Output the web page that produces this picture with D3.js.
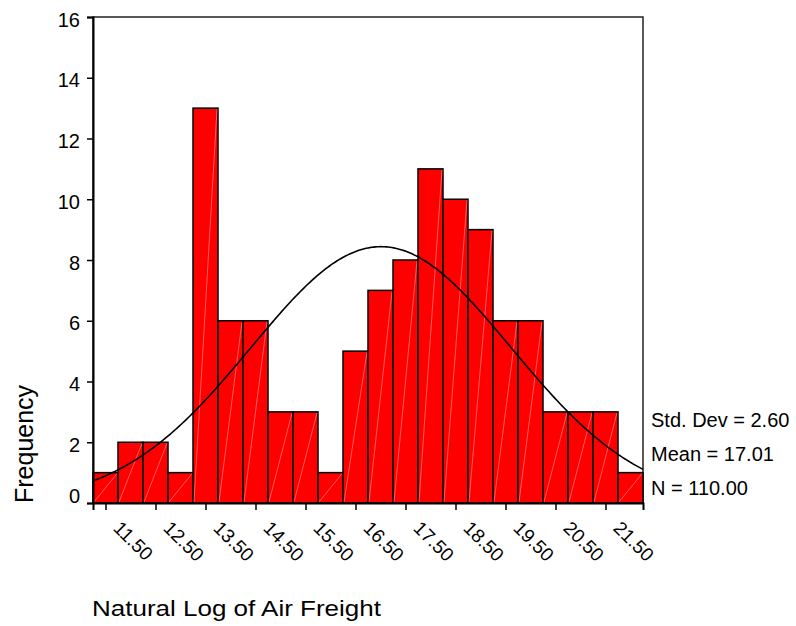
<!DOCTYPE html>
<html>
<head>
<meta charset="utf-8">
<script src="https://cdn.jsdelivr.net/npm/d3@7"></script>
<style>
  html, body { margin: 0; padding: 0; background: #fff; }
  svg { display: block; font-family: Arial, "Liberation Sans", sans-serif; }
</style>
</head>
<body>
<svg id="chart" width="796" height="626"></svg>
<script>
// ---- data ----
const binCenters = [11.5, 12.0, 12.5, 13.0, 13.5, 14.0, 14.5, 15.0, 15.5, 16.0, 16.5,
                    17.0, 17.5, 18.0, 18.5, 19.0, 19.5, 20.0, 20.5, 21.0, 21.5, 22.0];
const counts     = [1, 2, 2, 1, 13, 6, 6, 3, 3, 1, 5,
                    7, 8, 11, 10, 9, 6, 6, 3, 3, 3, 1];
const binWidth = 0.5;
const xTickValues = [11.5, 12.5, 13.5, 14.5, 15.5, 16.5, 17.5, 18.5, 19.5, 20.5, 21.5];
const yTickValues = [0, 2, 4, 6, 8, 10, 12, 14, 16];
const statStdDev = 2.60;
const statMean = 17.01;
const statN = 110;
const statLabels = ["Std. Dev = 2.60", "Mean = 17.01", "N = 110.00"];
const xTitle = "Natural Log of Air Freight";
const yTitle = "Frequency";

// ---- layout ----
const svg = d3.select("#chart");
const L = 93, R = 643, T = 17, B = 503;

const x = d3.scaleLinear().domain([11.25, 22.25]).range([L, R]);
const y = d3.scaleLinear().domain([0, 16]).range([B, T]);

// frame (top and right)
svg.append("rect")
  .attr("x", L).attr("y", T).attr("width", R - L).attr("height", B - T)
  .attr("fill", "none").attr("stroke", "#222").attr("stroke-width", 1.5);

// bars
const bars = svg.append("g");
binCenters.forEach((c, i) => {
  const x0 = x(c - binWidth / 2), x1 = x(c + binWidth / 2);
  const y0 = y(counts[i]);
  bars.append("rect")
    .attr("x", x0).attr("y", y0).attr("width", x1 - x0).attr("height", y(0) - y0)
    .attr("fill", "#ff0000").attr("stroke", "#000").attr("stroke-width", 1.5);
  bars.append("line")
    .attr("x1", x0 + 1).attr("y1", y(0) - 1).attr("x2", x1 - 1).attr("y2", y0 + 1)
    .attr("stroke", "#ff9a9a").attr("stroke-width", 0.6);
});

// normal curve from the displayed statistics
const xs = d3.range(0, 301).map(k => 11.25 + k * (22.25 - 11.25) / 300);
const curve = xs.map(v => [v, statN * binWidth / (statStdDev * Math.sqrt(2 * Math.PI)) *
  Math.exp(-0.5 * Math.pow((v - statMean) / statStdDev, 2))]);
svg.append("path")
  .datum(curve)
  .attr("d", d3.line().x(d => x(d[0])).y(d => y(d[1])))
  .attr("fill", "none").attr("stroke", "#000").attr("stroke-width", 1.6);

// y axis
const yAxis = svg.append("g").attr("transform", `translate(${L},0)`)
  .call(d3.axisLeft(y).tickValues(yTickValues).tickFormat(d3.format("d")).tickSize(6).tickPadding(7));
yAxis.select(".domain").attr("stroke", "#000").attr("stroke-width", 2);
yAxis.selectAll(".tick line").attr("stroke", "#000").attr("stroke-width", 1.5);
yAxis.selectAll(".tick text")
  .attr("font-size", 20).attr("font-family", "Arial, 'Liberation Sans', sans-serif").attr("fill", "#000")
  .attr("dy", d => d === 0 ? "-0.05em" : "0.45em");

// x axis
const xAxis = svg.append("g").attr("transform", `translate(0,${B})`)
  .call(d3.axisBottom(x).tickValues(xTickValues).tickFormat(d3.format(".2f")).tickSize(7));
xAxis.select(".domain").attr("stroke", "#000").attr("stroke-width", 2);
xAxis.selectAll(".tick line").attr("stroke", "#000").attr("stroke-width", 1.5);
xAxis.selectAll(".tick text")
  .attr("font-size", 19).attr("font-family", "Arial, 'Liberation Sans', sans-serif").attr("fill", "#000")
  .attr("text-anchor", "start")
  .attr("x", 0).attr("y", 0).attr("dy", 0)
  .attr("transform", "rotate(45) translate(23,14)");

// stats
statLabels.forEach((s, i) => {
  svg.append("text")
    .attr("x", 651).attr("y", 427 + i * 34)
    .attr("font-size", 20).attr("fill", "#000")
    .text(s);
});

// titles
svg.append("text")
  .attr("x", 92).attr("y", 616)
  .attr("font-size", 22).attr("fill", "#000")
  .attr("textLength", 289).attr("lengthAdjust", "spacingAndGlyphs")
  .text(xTitle);

svg.append("text")
  .attr("transform", "translate(33,503) rotate(-90)")
  .attr("font-size", 25).attr("fill", "#000")
  .text(yTitle);
</script>
</body>
</html>
